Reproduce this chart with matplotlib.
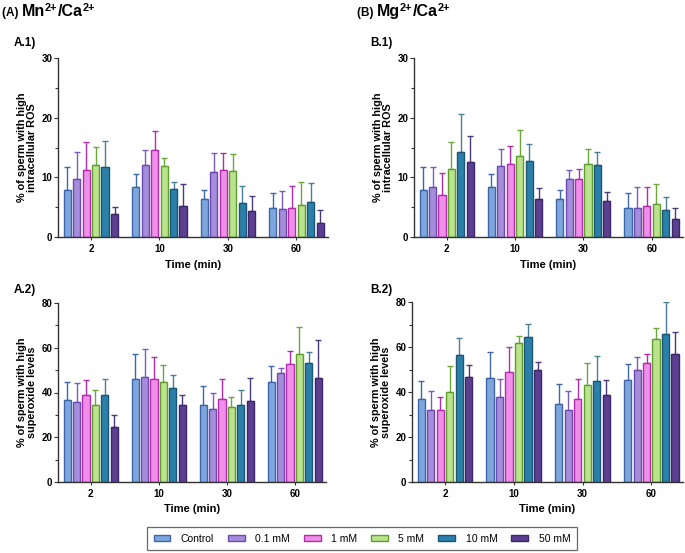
import matplotlib
matplotlib.use("Agg")
import matplotlib.pyplot as plt
import numpy as np
from matplotlib.ticker import MultipleLocator
from matplotlib.patches import Patch

plt.rcParams['font.family'] = ['Liberation Sans', 'DejaVu Sans']

times = ["2", "10", "30", "60"]
groups = ["Control", "0.1 mM", "1 mM", "5 mM", "10 mM", "50 mM"]

# A.1 Mn ROS  (mean, top of error bar) rows = concentration, cols = time
a1_mean = [[7.9, 8.3, 6.4, 4.8],
           [9.7, 12.1, 10.9, 4.7],
           [11.2, 14.6, 11.3, 4.9],
           [12.0, 11.9, 11.1, 5.3],
           [11.8, 8.1, 5.7, 5.8],
           [3.9, 5.2, 4.3, 2.4]]
a1_top = [[11.7, 10.6, 7.8, 7.4],
          [14.3, 14.5, 14.0, 7.7],
          [15.9, 17.8, 14.0, 8.5],
          [15.1, 13.2, 13.9, 9.3],
          [16.1, 9.3, 8.6, 9.0],
          [5.1, 8.8, 6.8, 4.6]]
# B.1 Mg ROS
b1_mean = [[7.9, 8.3, 6.4, 4.8],
           [8.3, 11.9, 9.8, 4.9],
           [7.0, 12.2, 9.8, 5.2],
           [11.4, 13.5, 12.2, 5.6],
           [14.2, 12.7, 12.0, 4.6],
           [12.5, 6.3, 6.0, 3.1]]
b1_top = [[11.7, 10.6, 7.8, 7.4],
          [11.7, 14.8, 11.2, 8.3],
          [10.7, 15.2, 11.4, 8.4],
          [16.0, 18.0, 14.7, 8.9],
          [20.6, 15.6, 14.2, 6.7],
          [16.9, 8.2, 7.6, 4.8]]
# A.2 Mn superoxide
a2_mean = [[36.6, 45.9, 34.2, 44.9],
           [35.8, 47.0, 32.6, 48.8],
           [38.7, 46.2, 37.3, 52.8],
           [34.6, 44.9, 33.3, 57.2],
           [39.1, 42.2, 34.6, 53.4],
           [24.7, 34.2, 36.0, 46.5]]
a2_top = [[44.6, 57.3, 43.1, 51.9],
          [44.2, 59.5, 39.7, 51.0],
          [45.8, 55.9, 45.9, 58.4],
          [41.2, 52.2, 38.1, 69.3],
          [46.1, 47.6, 40.9, 58.1],
          [30.0, 39.1, 46.7, 63.5]]
# B.2 Mg superoxide
b2_mean = [[36.9, 46.1, 34.5, 45.5],
           [32.0, 37.9, 32.0, 50.0],
           [32.1, 48.8, 36.7, 53.1],
           [40.0, 61.7, 43.1, 63.5],
           [56.5, 64.5, 45.1, 65.6],
           [46.7, 49.7, 38.8, 57.1]]
b2_top = [[44.9, 57.7, 43.4, 52.5],
          [40.4, 45.8, 40.3, 55.5],
          [37.6, 59.9, 45.8, 57.0],
          [51.4, 65.1, 52.9, 68.4],
          [64.2, 70.3, 56.1, 80.1],
          [51.9, 53.4, 45.2, 66.8]]

fills = ["#7ea6dc", "#a58dd9", "#ef8fea", "#bbe28c", "#2a80a9", "#5d3f92"]
edges = ["#3d66ab", "#6b4bb3", "#b42cae", "#5f9f30", "#1c5575", "#3b2668"]
errc = ["#3d66ab", "#7a5cc0", "#b42cae", "#6aa83a", "#4a7d98", "#4b3a7a"]

W, H = 685, 553
fig = plt.figure(figsize=(W / 100, H / 100), dpi=100)

def px_axes(x0, x1, ytop, ybot):
    return fig.add_axes([x0 / W, 1 - ybot / H, (x1 - x0) / W, (ybot - ytop) / H])

panels = [
    (px_axes(58, 328, 58, 237), a1_mean, a1_top, 30, 10, 5,
     "% of sperm with high\nintracellular ROS"),
    (px_axes(414, 683, 58, 237), b1_mean, b1_top, 30, 10, 5,
     "% of sperm with high\nintracellular ROS"),
    (px_axes(58, 326, 303, 482), a2_mean, a2_top, 80, 20, 10,
     "% of sperm with high\nsuperoxide levels"),
    (px_axes(412, 683, 302, 482), b2_mean, b2_top, 80, 20, 10,
     "% of sperm with high\nsuperoxide levels"),
]

slot = 0.138
bw = 0.105
x = np.arange(len(times))
for ax, mean, top, ymax, major, minor, ylab in panels:
    for i in range(len(groups)):
        xi = x + (i - 2.5) * slot
        m = np.array(mean[i])
        t = np.array(top[i])
        ax.bar(xi, m, width=bw, color=fills[i], edgecolor=edges[i], linewidth=1.0, zorder=2)
        ax.errorbar(xi, m, yerr=[np.zeros_like(m), t - m], fmt='none', ecolor=errc[i],
                    elinewidth=1.0, capsize=2.2, capthick=1.0, zorder=1)
    ax.set_xlim(-0.48, 3.46)
    ax.set_ylim(0, ymax)
    ax.yaxis.set_major_locator(MultipleLocator(major))
    ax.yaxis.set_minor_locator(MultipleLocator(minor))
    ax.set_xticks(x)
    ax.set_xticklabels(times)
    for s in ["top", "right"]:
        ax.spines[s].set_visible(False)
    for s in ["left", "bottom"]:
        ax.spines[s].set_color("#333333")
        ax.spines[s].set_linewidth(1.0)
    ax.tick_params(axis='y', which='major', length=3, width=0.8, color="#333333", pad=1,
                   labelsize=7)
    ax.tick_params(axis='y', which='minor', length=2, width=0.8, color="#333333")
    ax.tick_params(axis='x', length=2, width=0.8, color="#333333", labelsize=7, pad=3)
    for lab in ax.get_xticklabels() + ax.get_yticklabels():
        lab.set_fontweight('bold')
    ax.set_xlabel("Time (min)", fontsize=8, fontweight='bold', labelpad=4)
    ax.set_ylabel(ylab, fontsize=7.8, fontweight='bold', labelpad=3, linespacing=1.1)

# Titles built from pieces so the superscripts sit tight
fig.canvas.draw()
renderer = fig.canvas.get_renderer()

def rich_title(x_px, y_px, pieces):
    xp = x_px
    for txt, size, dy in pieces:
        t = fig.text(xp / W, 1 - (y_px - dy) / H, txt, fontsize=size, fontweight='bold',
                     va='baseline', ha='left')
        bb = t.get_window_extent(renderer=renderer)
        xp += bb.width

rich_title(2, 16, [("(A) ", 8.5, 0), ("Mn", 11.5, 0), ("2+", 7.8, 5), ("/Ca", 11.5, 0), ("2+", 7.8, 5)])
rich_title(357, 16, [("(B) ", 8.5, 0), ("Mg", 11.5, 0), ("2+", 7.8, 5), ("/Ca", 11.5, 0), ("2+", 7.8, 5)])

fig.text(14 / W, 1 - 43 / H, "A.1)", fontsize=8.5, fontweight='bold', va='center')
fig.text(370 / W, 1 - 43 / H, "B.1)", fontsize=8.5, fontweight='bold', va='center')
fig.text(14 / W, 1 - 290 / H, "A.2)", fontsize=8.5, fontweight='bold', va='center')
fig.text(370 / W, 1 - 290 / H, "B.2)", fontsize=8.5, fontweight='bold', va='center')

handles = [Patch(facecolor=fills[i], edgecolor=edges[i], linewidth=1.0) for i in range(len(groups))]
leg = fig.legend(handles, groups, loc='center', bbox_to_anchor=(362 / W, 1 - 538.5 / H),
                 ncol=6, fontsize=7.5, frameon=True, fancybox=False, edgecolor="#444444",
                 handlelength=1.6, handleheight=0.5, columnspacing=1.35, handletextpad=1.0,
                 borderpad=0.6)
leg.get_frame().set_linewidth(0.9)

fig.savefig("out.png", dpi=100)
